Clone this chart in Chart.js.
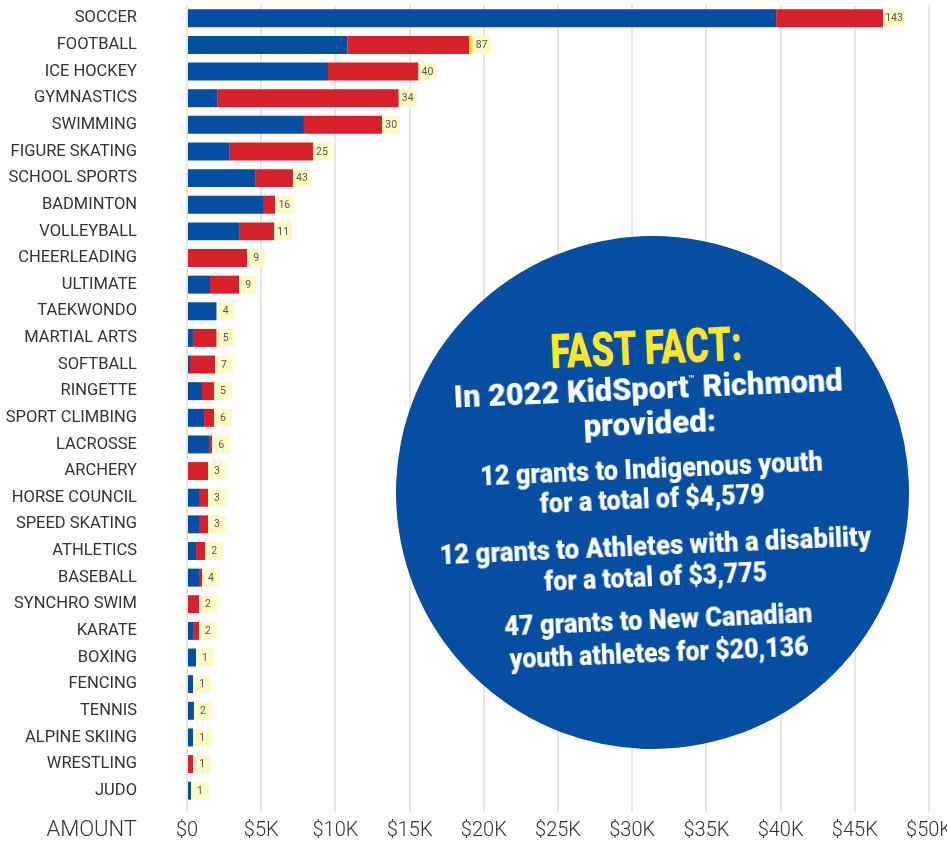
<!DOCTYPE html>
<html>
<head>
<meta charset="utf-8">
<script src="https://cdn.jsdelivr.net/npm/chart.js@4/dist/chart.umd.min.js"></script>
<style>
  html, body { margin: 0; padding: 0; background: #ffffff; }
  #wrap { position: relative; width: 947px; height: 846px; overflow: hidden; }
  #c { position: absolute; left: 0; top: 0; }
  #amount { position: absolute; right: 810px; top: 815px; font-family: Roboto, "DejaVu Sans Condensed", sans-serif; font-weight: 300; font-size: 22px; color: #333; line-height: 28px; white-space: nowrap; }
  #circle { position: absolute; left: 396px; top: 236px; width: 513px; height: 513px; border-radius: 50%; background: #054ea2; }
  #facts { position: absolute; left: 396px; top: 236px; width: 513px; height: 513px; transform: rotate(-2.5deg); transform-origin: 50% 50%; }
  .ln { position: absolute; left: 0; width: 513px; text-align: center; white-space: nowrap; font-family: Roboto, "DejaVu Sans Condensed", sans-serif; font-weight: 900; color: #ffffff; line-height: 1; }
  .ln span { display: inline-block; transform-origin: 50% 50%; }
  .ff { color: #ffe62e; font-size: 48px; }
  .big { font-size: 32px; }
  .sm { font-size: 27px; }
  sup.tm { font-size: 10px; vertical-align: 15px; font-weight: 700; }
</style>
</head>
<body>
<div id="wrap">
  <canvas id="c" width="947" height="846"></canvas>
  <div id="amount">AMOUNT</div>
  <div id="circle"></div>
  <div id="facts">
    <div class="ln ff" style="top:88px"><span data-w="192">FAST FACT:</span></div>
    <div class="ln big" style="top:136px"><span data-w="389">In 2022 KidSport<sup class="tm">™</sup> Richmond</span></div>
    <div class="ln big" style="top:171px"><span data-w="133">provided:</span></div>
    <div class="ln sm" style="top:220px"><span data-w="343">12 grants to Indigenous youth</span></div>
    <div class="ln sm" style="top:250px"><span data-w="225">for a total of $4,579</span></div>
    <div class="ln sm" style="top:297px"><span data-w="432">12 grants to Athletes with a disability</span></div>
    <div class="ln sm" style="top:328px"><span data-w="223">for a total of $3,775</span></div>
    <div class="ln sm" style="top:371px"><span data-w="308">47 grants to New Canadian</span></div>
    <div class="ln sm" style="top:404px"><span data-w="299">youth athletes for $20,136</span></div>
  </div>
</div>
<script>
const categories = ["SOCCER","FOOTBALL","ICE HOCKEY","GYMNASTICS","SWIMMING","FIGURE SKATING","SCHOOL SPORTS","BADMINTON","VOLLEYBALL","CHEERLEADING","ULTIMATE","TAEKWONDO","MARTIAL ARTS","SOFTBALL","RINGETTE","SPORT CLIMBING","LACROSSE","ARCHERY","HORSE COUNCIL","SPEED SKATING","ATHLETICS","BASEBALL","SYNCHRO SWIM","KARATE","BOXING","FENCING","TENNIS","ALPINE SKIING","WRESTLING","JUDO"];
const blueAmounts = [39700,10800,9500,2070,7880,2840,4590,5180,3510,0,1550,2000,400,200,1010,1150,1490,0,810,810,610,810,0,410,610,410,470,410,0,270];
const redAmounts = [7200,8200,6100,12200,5270,5650,2550,770,2370,4050,1960,0,1600,1690,810,670,200,1420,610,610,610,200,810,400,0,0,0,0,410,0];
const yellowAmounts = [0,250,0,0,0,0,0,0,0,0,0,0,0,0,0,0,0,0,0,0,0,0,0,0,0,0,0,0,0,0];
const grantCounts = [143,87,40,34,30,25,43,16,11,9,9,4,5,7,5,6,6,3,3,3,2,4,2,2,1,1,2,1,1,1];
const xTickLabels = ["$0","$5K","$10K","$15K","$20K","$25K","$30K","$35K","$40K","$45K","$50K"];

const countBoxes = {
  id: 'countBoxes',
  afterDatasetsDraw(chart) {
    const ctx = chart.ctx;
    const xs = chart.scales.x, ys = chart.scales.y;
    const meta = chart.getDatasetMeta(0);
    ctx.save();
    ctx.font = '10.5px Roboto, "DejaVu Sans Condensed", sans-serif';
    ctx.textAlign = 'center';
    ctx.textBaseline = 'middle';
    grantCounts.forEach((n, i) => {
      const total = blueAmounts[i] + redAmounts[i] + yellowAmounts[i];
      const x = xs.getPixelForValue(total);
      const y = ys.getPixelForValue(i);
      const h = meta.data[i].height || 18;
      const label = String(n);
      const w = Math.max(18, Math.round(ctx.measureText(label).width + 4));
      ctx.fillStyle = '#fff9c6';
      ctx.fillRect(x, y - h / 2, w, h);
      ctx.fillStyle = '#555555';
      ctx.fillText(label, x + w / 2, y + 0.5);
    });
    ctx.restore();
  }
};

new Chart(document.getElementById('c'), {
  type: 'bar',
  data: {
    labels: categories,
    datasets: [
      { label: 'Blue', data: blueAmounts, backgroundColor: '#054ea2', borderWidth: 0 },
      { label: 'Red', data: redAmounts, backgroundColor: '#d7212a', borderWidth: 0 },
      { label: 'Yellow', data: yellowAmounts, backgroundColor: '#ffe600', borderWidth: 0 }
    ]
  },
  options: {
    indexAxis: 'y',
    responsive: false,
    animation: false,
    devicePixelRatio: 1,
    layout: { padding: { top: 5, right: 18, bottom: 0, left: 0 } },
    datasets: { bar: { barPercentage: 0.675, categoryPercentage: 1 } },
    plugins: { legend: { display: false }, tooltip: { enabled: false } },
    scales: {
      x: {
        stacked: true,
        min: 0, max: 50000,
        ticks: {
          stepSize: 5000,
          autoSkip: false,
          maxRotation: 0,
          padding: 7,
          color: '#333333',
          font: { family: 'Roboto, "DejaVu Sans Condensed", sans-serif', size: 20, weight: '300' },
          callback: (v, i) => xTickLabels[i]
        },
        grid: { color: '#e6e6e6', lineWidth: 2, drawTicks: true, tickLength: 8 },
        border: { display: false },
        afterFit(scale) { scale.height = 42; scale.paddingLeft = 0; scale.paddingRight = 0; }
      },
      y: {
        stacked: true,
        ticks: {
          autoSkip: false,
          padding: 50,
          color: '#333333',
          font: { family: 'Roboto, "DejaVu Sans Condensed", sans-serif', size: 16.5 }
        },
        grid: { display: false, drawTicks: false },
        border: { display: false },
        afterFit(scale) { scale.width = 187; scale.paddingTop = 0; scale.paddingBottom = 0; }
      }
    }
  },
  plugins: [countBoxes]
});

function fitLines() {
  document.querySelectorAll('#facts span[data-w]').forEach(s => {
    const target = parseFloat(s.dataset.w);
    const w = s.offsetWidth;
    if (w > 0) s.style.transform = 'scaleX(' + (target / w).toFixed(3) + ')';
  });
}
fitLines();
if (document.fonts && document.fonts.ready) document.fonts.ready.then(fitLines);
</script>
</body>
</html>
